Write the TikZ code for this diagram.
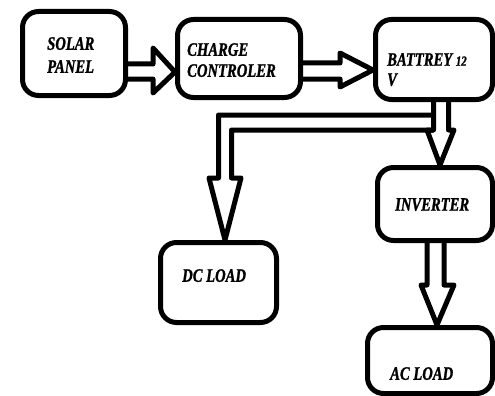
\documentclass[tikz,border=0pt]{standalone}
\usepackage{fontspec}
\newfontfamily\lblfont[FakeStretch=0.77,FakeBold=1.2]{Liberation Serif}
\usetikzlibrary{calc}
\begin{document}
\begin{tikzpicture}[x=1pt,y=-1pt,
  box/.style={draw,line width=5pt,rounded corners=16pt,inner sep=0pt},
  lbl/.style={anchor=north west,inner sep=0pt,align=left,
    font=\lblfont\bfseries\itshape\fontsize{19}{22}\selectfont},
  arr/.style={draw,line width=5pt,line join=round}]
\useasboundingbox (0,0) rectangle (495,396);
% boxes
\node[box,minimum width=103pt,minimum height=84pt] (sp)  at (74,53.5)   {};
\node[box,minimum width=123pt,minimum height=78pt] (cc)  at (239,58.5)  {};
\node[box,minimum width=117pt,minimum height=80pt] (bat) at (434,59.5)  {};
\node[box,minimum width=115pt,minimum height=73pt] (inv) at (435,204)   {};
\node[box,minimum width=116pt,minimum height=80pt] (dc)  at (218.5,282.5) {};
\node[box,minimum width=125pt,minimum height=66pt] (ac)  at (430,360.5) {};
% labels
\node[lbl,font=\lblfont\bfseries\itshape\fontsize{19}{23}\selectfont] (spt) at (47,37) {SOLAR\\PANEL};
\node[lbl,font=\lblfont\bfseries\itshape\fontsize{19}{21}\selectfont] (cct) at (187,43) {CHARGE\\CONTROLER};
\node[lbl,font=\lblfont\bfseries\itshape\fontsize{19}{20}\selectfont] (batt) at (387,53) {BATTREY {\fontsize{14}{14}\selectfont 12}\\V};
\node[lbl] (invt) at (395,198) {INVERTER};
\node[lbl] (dct) at (182,269) {DC LOAD};
\node[lbl] (act) at (390,367) {AC LOAD};
% arrows
\draw[arr] (sp.east |- 0,64) -- (153,64) -- (153,48) -- (cc.west |- 0,72)
  -- (153,93) -- (153,79) -- (sp.east |- 0,79);
\draw[arr] (cc.east |- 0,63) -- (340,63) -- (340,53) -- (bat.west |- 0,70)
  -- (340,87) -- (340,79) -- (cc.east |- 0,79);
\draw[arr] (433.5,0 |- bat.south) -- (433.5,130) -- (427,130) -- (440,0 |- inv.north)
  -- (454,130) -- (448.5,130) -- (448.5,0 |- bat.south);
\draw[arr] (433.5,115) -- (218.5,115) -- (218.5,178) -- (209,178) -- (225,0 |- dc.north)
  -- (241,178) -- (231.5,178) -- (231.5,130) -- (433.5,130);
\draw[arr] (427,0 |- inv.south) -- (427,285) -- (421,285) -- (437,0 |- ac.north)
  -- (454,285) -- (444,285) -- (444,0 |- inv.south);
\end{tikzpicture}
\end{document}
